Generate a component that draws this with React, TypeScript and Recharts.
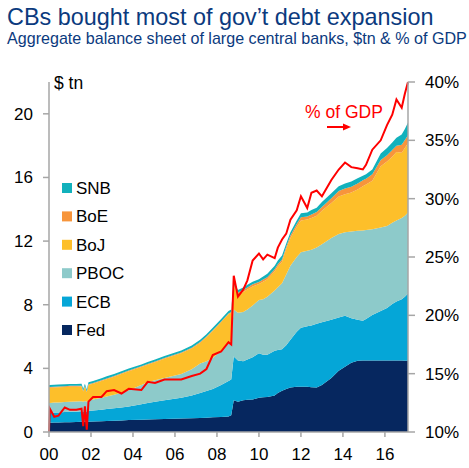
import React from "react";
import { ComposedChart, Area, Line, XAxis, YAxis } from "recharts";

// time (fractional year)
const years = [
  2000.0, 2000.04, 2000.25, 2000.45, 2000.75, 2001.0, 2001.3, 2001.55, 2001.63, 2001.71,
  2001.8, 2001.88, 2002.1, 2002.5, 2002.75, 2003.1, 2003.45, 2003.8, 2004.4, 2004.7,
  2005.05, 2005.5, 2006.3, 2006.8, 2007.2, 2007.5, 2007.8, 2008.2, 2008.55, 2008.68,
  2008.8, 2009.0, 2009.25, 2009.45, 2009.7, 2010.0, 2010.2, 2010.4, 2010.75, 2010.9,
  2011.1, 2011.3, 2011.5, 2011.8, 2012.0, 2012.3, 2012.5, 2012.75, 2013.0, 2013.45,
  2013.8, 2014.1, 2014.4, 2014.7, 2014.95, 2015.1, 2015.4, 2015.8, 2016.1, 2016.35,
  2016.55, 2016.8, 2016.95, 2017.1,
];

// $tn, balance sheet of each central bank
const fed = [
  0.58, 0.58, 0.59, 0.6, 0.61, 0.62, 0.63, 0.64, 0.64, 0.64,
  0.64, 0.65, 0.66, 0.68, 0.69, 0.7, 0.72, 0.75, 0.77, 0.79,
  0.8, 0.82, 0.85, 0.87, 0.88, 0.9, 0.93, 0.95, 0.98, 1.05,
  2.0, 1.9, 2.0, 2.02, 2.05, 2.15, 2.18, 2.2, 2.3, 2.45,
  2.6, 2.7, 2.8, 2.84, 2.85, 2.84, 2.82, 2.8, 2.95, 3.4,
  3.85, 4.1, 4.35, 4.48, 4.5, 4.5, 4.5, 4.5, 4.5, 4.5,
  4.5, 4.5, 4.48, 4.5,
];
const ecb = [
  0.62, 0.62, 0.63, 0.63, 0.64, 0.65, 0.65, 0.66, 0.64, 0.66,
  0.64, 0.67, 0.69, 0.72, 0.75, 0.79, 0.82, 0.85, 0.98, 1.04,
  1.1, 1.18, 1.3, 1.43, 1.57, 1.68, 1.77, 2.0, 2.22, 2.25,
  2.75, 2.6, 2.45, 2.53, 2.65, 2.8, 2.67, 2.65, 2.8, 2.7,
  2.6, 2.75, 3.0, 3.46, 3.7, 3.81, 3.88, 4.0, 3.95, 3.65,
  3.35, 3.2, 2.8, 2.57, 2.5, 2.6, 2.85, 3.1, 3.3, 3.55,
  3.7, 3.85, 4.02, 4.2,
];
const pboc = [
  0.62, 0.62, 0.63, 0.63, 0.63, 0.63, 0.64, 0.64, 0.62, 0.65,
  0.62, 0.66, 0.69, 0.75, 0.79, 0.85, 0.93, 1.02, 1.2, 1.29,
  1.35, 1.4, 1.5, 1.65, 1.85, 1.87, 1.95, 2.15, 2.4, 2.4,
  2.95, 3.0, 3.1, 3.15, 3.25, 3.35, 3.5, 3.65, 3.8, 3.95,
  4.15, 4.45, 4.65, 4.7, 4.75, 4.75, 4.75, 4.8, 4.9, 5.15,
  5.25, 5.25, 5.45, 5.6, 5.66, 5.6, 5.4, 5.25, 5.15, 5.1,
  5.1, 5.1, 5.1, 5.1,
];
const boj = [
  0.96, 0.96, 0.95, 0.95, 0.95, 0.95, 0.93, 0.92, 0.65, 0.91,
  0.6, 0.97, 0.99, 1.05, 1.09, 1.13, 1.18, 1.2, 1.13, 1.1,
  1.13, 1.2, 1.3, 1.3, 1.3, 1.5, 1.7, 1.8, 1.8, 1.8,
  1.45, 1.15, 1.25, 1.25, 1.2, 1.0, 1.1, 1.1, 1.2, 1.3,
  1.35, 1.6, 1.75, 1.9, 2.0, 1.95, 2.0, 2.0, 2.1, 2.2,
  2.35, 2.4, 2.45, 2.6, 2.79, 2.85, 3.05, 3.85, 4.05, 4.15,
  4.3, 4.1, 4.25, 4.35,
];
const boe = [
  0.05, 0.05, 0.05, 0.05, 0.05, 0.05, 0.05, 0.05, 0.05, 0.05,
  0.05, 0.05, 0.05, 0.05, 0.05, 0.05, 0.05, 0.05, 0.05, 0.05,
  0.05, 0.05, 0.05, 0.05, 0.05, 0.05, 0.05, 0.05, 0.05, 0.05,
  0.12, 0.12, 0.12, 0.13, 0.13, 0.13, 0.13, 0.13, 0.13, 0.14,
  0.15, 0.15, 0.15, 0.17, 0.2, 0.2, 0.22, 0.23, 0.25, 0.3,
  0.35, 0.35, 0.37, 0.37, 0.37, 0.37, 0.4, 0.4, 0.4, 0.42,
  0.4, 0.5, 0.5, 0.5,
];
const snb = [
  0.12, 0.12, 0.12, 0.12, 0.12, 0.12, 0.12, 0.12, 0.12, 0.12,
  0.12, 0.12, 0.12, 0.13, 0.13, 0.12, 0.12, 0.12, 0.12, 0.13,
  0.13, 0.13, 0.12, 0.13, 0.15, 0.15, 0.15, 0.15, 0.15, 0.15,
  0.18, 0.15, 0.16, 0.17, 0.17, 0.17, 0.2, 0.22, 0.22, 0.24,
  0.25, 0.2, 0.2, 0.23, 0.25, 0.25, 0.28, 0.27, 0.3, 0.3,
  0.3, 0.32, 0.33, 0.33, 0.28, 0.28, 0.3, 0.4, 0.45, 0.48,
  0.5, 0.65, 0.7, 0.8,
];
// aggregate balance sheet, % of GDP (right axis)
const gdpPct = [
  10.0, 12.0, 11.3, 11.4, 12.1, 11.9, 11.9, 12.0, 10.5, 12.2,
  10.2, 12.6, 13.0, 13.0, 13.5, 13.6, 13.3, 13.7, 13.6, 14.3,
  14.2, 14.5, 14.5, 14.8, 15.0, 15.4, 16.6, 16.9, 17.7, 17.5,
  23.4, 21.6, 22.2, 23.0, 24.7, 25.3, 24.8, 25.2, 24.9, 25.8,
  26.5, 27.0, 28.2, 29.0, 30.2, 29.2, 30.5, 30.7, 30.2, 31.6,
  32.5, 33.1, 32.7, 32.6, 32.5, 32.9, 34.2, 35.0, 36.3, 37.2,
  38.5, 37.8, 39.0, 40.0,
];

const xTicks = [2000, 2002, 2004, 2006, 2008, 2010, 2012, 2014, 2016];
const leftTicks = [0, 4, 8, 12, 16, 20];
const rightTicks = [10, 15, 20, 25, 30, 35, 40];

const series = [
  { key: "fed", name: "Fed", color: "#06275F" },
  { key: "ecb", name: "ECB", color: "#05A6D7" },
  { key: "pboc", name: "PBOC", color: "#8DCACA" },
  { key: "boj", name: "BoJ", color: "#FDBF2A" },
  { key: "boe", name: "BoE", color: "#F7953B" },
  { key: "snb", name: "SNB", color: "#12B1BC" },
];

const data = years.map((t, i) => ({
  t,
  fed: fed[i],
  ecb: ecb[i],
  pboc: pboc[i],
  boj: boj[i],
  boe: boe[i],
  snb: snb[i],
  gdp: gdpPct[i],
}));

const FONT = "'Liberation Sans', Arial, sans-serif";
const AXIS = "#A6A6A6";
const TITLE = "#0B3A7E";
const RED = "#FF0000";

const legendOrder = ["snb", "boe", "boj", "pboc", "ecb", "fed"];

export default function App() {
  return (
    <div style={{ position: "absolute", left: 0, top: 0, width: 469, height: 468, background: "#fff", fontFamily: FONT }}>
      <ComposedChart
        width={469}
        height={468}
        data={data}
        margin={{ top: 82, right: 0, bottom: 6, left: 0 }}
      >
        <XAxis
          dataKey="t"
          type="number"
          domain={[2000, 2017.1]}
          ticks={xTicks}
          tickFormatter={(v: number) => String(Math.round(v) % 100).padStart(2, "0")}
          height={30}
          tickSize={5}
          tickMargin={11}
          stroke={AXIS}
          tick={{ fill: "#000", fontSize: 17, fontFamily: FONT }}
          axisLine={{ stroke: AXIS, strokeWidth: 1.5 }}
          tickLine={{ stroke: AXIS, strokeWidth: 1.5 }}
        />
        <YAxis
          yAxisId="left"
          orientation="left"
          domain={[0, 22]}
          ticks={leftTicks}
          width={49}
          tickSize={6}
          tickMargin={10}
          tick={{ fill: "#000", fontSize: 17, fontFamily: FONT }}
          axisLine={{ stroke: AXIS, strokeWidth: 1.5 }}
          tickLine={{ stroke: AXIS, strokeWidth: 1.5 }}
        />
        <YAxis
          yAxisId="right"
          orientation="right"
          domain={[10, 40]}
          ticks={rightTicks}
          width={61}
          tickSize={7}
          tickMargin={10}
          tickFormatter={(v: number) => `${v}%`}
          tick={{ fill: "#000", fontSize: 17, fontFamily: FONT }}
          axisLine={{ stroke: AXIS, strokeWidth: 1.5 }}
          tickLine={{ stroke: AXIS, strokeWidth: 1.5 }}
        />
        {series.map((s) => (
          <Area
            key={s.key}
            yAxisId="left"
            dataKey={s.key}
            name={s.name}
            stackId="cb"
            type="linear"
            stroke="none"
            fill={s.color}
            fillOpacity={1}
            isAnimationActive={false}
          />
        ))}
        <Line
          yAxisId="right"
          dataKey="gdp"
          type="linear"
          stroke={RED}
          strokeWidth={2}
          dot={false}
          isAnimationActive={false}
        />
      </ComposedChart>
      <svg
        width={469}
        height={468}
        style={{ position: "absolute", left: 0, top: 0, pointerEvents: "none" }}
        fontFamily={FONT}
      >
        <text x={7} y={25} fontSize={23.4} fill={TITLE}>
          CBs bought most of gov’t debt expansion
        </text>
        <text x={7} y={44} fontSize={16.1} fill={TITLE}>
          Aggregate balance sheet of large central banks, $tn &amp; % of GDP
        </text>
        <text x={54} y={89} fontSize={17.5} fill="#000">
          $ tn
        </text>
        {legendOrder.map((k, i) => {
          const s = series.find((x) => x.key === k)!;
          const cy = 188 + i * 28.4;
          return (
            <g key={k}>
              <rect x={62} y={cy - 5} width={10} height={10} fill={s.color} />
              <text x={76} y={cy + 6} fontSize={17} fill="#000">
                {s.name}
              </text>
            </g>
          );
        })}
        <text x={305} y={118} fontSize={17.5} fill={RED}>
          % of GDP
        </text>
        <line x1={327} y1={127} x2={344} y2={127} stroke={RED} strokeWidth={2} />
        <polygon points="343,123.5 351,127 343,130.5" fill={RED} />
      </svg>
    </div>
  );
}
